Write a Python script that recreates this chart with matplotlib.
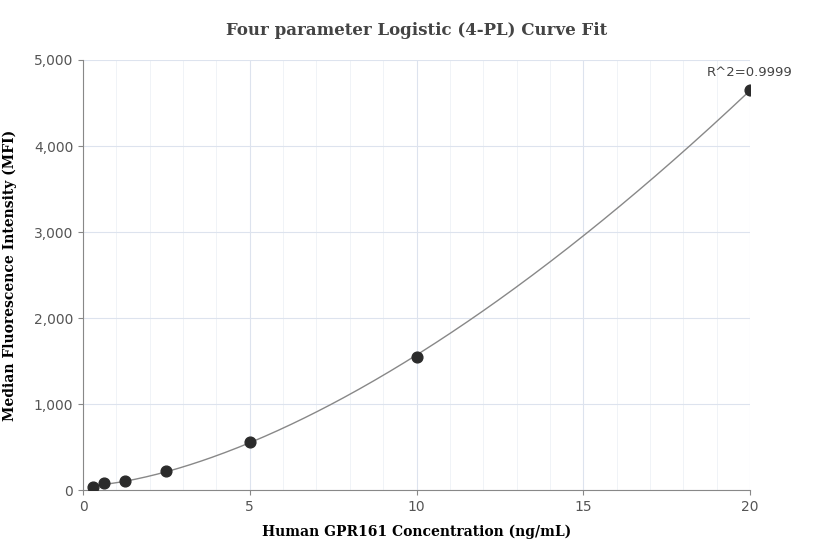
import numpy as np
import matplotlib
matplotlib.use("Agg")
import matplotlib.pyplot as plt
from matplotlib.ticker import FuncFormatter, MultipleLocator

conc = [0.3125, 0.625, 1.25, 2.5, 5, 10, 20]
mfi = [30, 85, 100, 220, 560, 1550, 4650]
title = "Four parameter Logistic (4-PL) Curve Fit"
xlabel = "Human GPR161 Concentration (ng/mL)"
ylabel = "Median Fluorescence Intensity (MFI)"
r2_text = "R^2=0.9999"

x = np.array(conc, float); y = np.array(mfi, float)
best = None
for B in np.linspace(0.8, 3, 45):
    for C in np.geomspace(5, 500, 80):
        t = (x / C) ** B
        g = t / (1 + t)
        M = np.vstack([np.ones_like(g), g]).T
        coef, *_ = np.linalg.lstsq(M, y, rcond=None)
        err = np.sum((M @ coef - y) ** 2)
        if best is None or err < best[0]:
            best = (err, B, C, coef)
_, B, C, (A, K) = best
xs = np.linspace(min(conc), max(conc), 300)
ts = (xs / C) ** B
ys = A + K * ts / (1 + ts)

fig = plt.figure(figsize=(8.32, 5.6), dpi=100)
ax = fig.add_axes([83/832, 70/560, 667/832, 430/560])
ax.plot(xs, ys, color="#888888", lw=1, zorder=2)
ax.scatter(conc, mfi, s=60, color="#2b2b2b", zorder=3)
ax.set_xlim(0, 20); ax.set_ylim(0, 5000)
ax.xaxis.set_major_locator(MultipleLocator(5))
ax.xaxis.set_minor_locator(MultipleLocator(1))
ax.yaxis.set_major_locator(MultipleLocator(1000))
ax.yaxis.set_major_formatter(FuncFormatter(lambda v, p: f"{int(v):,}"))
ax.grid(which="major", color="#dde3ee", lw=0.8)
ax.grid(which="minor", axis="x", color="#eef1f6", lw=0.6)
ax.set_axisbelow(True)
for s in ["top", "right"]:
    ax.spines[s].set_visible(False)
for s in ["left", "bottom"]:
    ax.spines[s].set_color("#888888")
ax.tick_params(which="both", colors="#888888", labelcolor="#555555", labelsize=10)
ax.tick_params(which="minor", length=0)
ax.set_title(title, fontfamily="DejaVu Serif", fontweight="bold", fontsize=12, color="#444444", pad=18)
ax.set_xlabel(xlabel, fontfamily="DejaVu Serif", fontweight="bold", fontsize=10, labelpad=8)
ax.set_ylabel(ylabel, fontfamily="DejaVu Serif", fontweight="bold", fontsize=10, labelpad=12)
ax.annotate(r2_text, (conc[-1], mfi[-1]), xytext=(0, 8), textcoords="offset points",
            ha="center", va="bottom", fontsize=9.5, color="#444444")
fig.savefig("out.png", dpi=100)
